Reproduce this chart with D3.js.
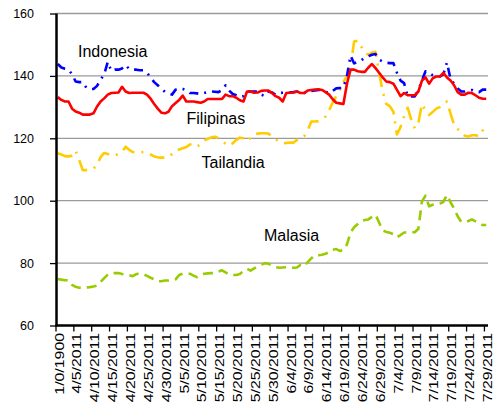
<!DOCTYPE html>
<html><head><meta charset="utf-8">
<script src="https://cdn.jsdelivr.net/npm/d3@7"></script>
<style>
html,body{margin:0;padding:0;background:#fff;}
svg{display:block;font-family:"Liberation Sans",Arial,sans-serif;}
</style></head>
<body>
<svg id="chart" width="499" height="412"></svg>
<script>
// ---- data ----
const nCats = 121;
const categories = d3.range(nCats).map(i => i === 0 ? "1/0/1900" : d3.timeFormat("%-m/%-d/%Y")(new Date(2011, 3, i)));
const tickLabels = ["1/0/1900","4/5/2011","4/10/2011","4/15/2011","4/20/2011","4/25/2011","4/30/2011","5/5/2011","5/10/2011","5/15/2011","5/20/2011","5/25/2011","5/30/2011","6/4/2011","6/9/2011","6/14/2011","6/19/2011","6/24/2011","6/29/2011","7/4/2011","7/9/2011","7/14/2011","7/19/2011","7/24/2011","7/29/2011"];
const yTicks = [60, 80, 100, 120, 140, 160];

const indonesia = [143.8,142.7,142.3,142,140.5,138.2,138,138,136.2,135.8,135.8,136.8,138.8,140.5,144.5,141.6,142,142,142.4,143.5,142.2,142,142,141.8,141.8,141,139.5,138,137,135.9,134.9,134.5,134,135.6,136,135.8,135.4,134.5,134.5,134.4,134.2,134.5,134.8,135,134.9,134.8,135.5,137,135.3,134.2,133.8,133.3,133.5,135,135,135,135,134,133.5,135,134.7,134,134.5,134.6,134.6,134.7,134.8,135,134.6,134.5,134.9,135.2,135.3,135.5,135.5,134.9,134.5,135.2,136,136.1,136.2,140,146.5,144,144.5,145,145.8,146.3,146.8,147,145.2,144.6,144.2,144.1,144.1,141,138.5,137.7,133.5,133.4,133.4,135.5,138.5,141.5,141,140.2,139.8,139.8,140.5,144.3,139,137.5,136,135,135,135.3,135.5,135,134.8,135.6,135.6];
const filipinas = [133.2,132.3,131.8,131.8,129.5,128.6,128.2,127.6,127.6,127.6,128,130.2,131.8,132.8,134,134.5,134.6,134.7,136.5,135,134.5,134.6,134.6,134.6,134.6,134,132.7,131,129.5,128.2,128,128.5,130.3,131.3,132.3,133.7,131.8,131.8,131.8,131.6,131.4,131.8,132.6,132.6,132.6,132.6,132.6,134,133.5,133.5,133,132.2,131.8,135,135,134.6,134.7,135.2,135.3,135.3,134.5,133.5,133,131.8,134.5,134.6,134.7,135,134.5,134.5,135.3,135.5,135.6,135.7,135.5,134.8,134,132.5,131.4,131.2,131,137.5,142,142,141.5,141.3,141.3,142.7,143.8,142.5,141,139.5,138.2,138,137.5,135.5,133.5,134.5,133.8,133.8,133.8,135,138.5,139.5,137.5,139.2,139.8,139.8,141,139.5,138.5,137,134.8,134,134,134.6,134.5,133.8,133,132.7,132.7];
const tailandia = [115.2,114.8,114.3,114.2,114.4,116,113,109.8,109.8,109.9,110.3,111.5,114,115.3,115,114.4,114.5,115,115.6,117.3,116.3,115.6,115.4,115.5,115.6,115.3,114.8,114.2,113.9,113.8,113.8,114,115,116,116.4,116.8,117.2,118,118.2,117.4,118,119.3,119.8,120.3,120.5,120,119,118.3,117.6,118.4,119.5,120.2,120,119,120.2,121.2,121.5,121.6,121.6,121.5,120.6,119.8,118.8,118.4,118.5,118.6,118.6,119.5,120.4,120.7,122.5,125.4,125.4,125.5,126.2,127,129,131.5,133.5,135.5,138,140,143,151,151.3,149.4,147.4,146.8,147.5,147.7,141,135,131,130.3,128.5,121.2,123.6,127,129.8,126,123.2,125,131,129,127.5,128.4,129.5,130,131.2,131.8,128,124.3,123,121.6,120.8,120.6,121,121,120.6,122.5,124.3];
const malasia = [74.9,74.7,74.5,74.5,73,72.4,72.1,72,72.2,72.3,72.5,72.8,74,75.2,76.3,76.8,76.8,76.8,76.5,76.3,76.1,75.8,76.5,76.6,76.4,75.9,75.3,74.8,74.2,74.2,74.4,74.4,74.5,74.8,76.2,76.6,76.6,76.6,76,75.5,76,76.6,76.7,76.8,76.8,77.3,77.7,77,76.4,76.2,76.2,76.5,77.5,78.2,77.6,78.3,79,79.5,80,79.8,79.3,78.7,78.5,78.6,78.7,78.6,78.5,78.6,79.5,79,80.3,81.5,82.5,82.5,82.7,83,83.5,84.3,84.5,83.9,84.2,86,89.8,91.5,92.5,93.5,93.8,94,94.8,95.5,93,90.5,90,89.7,89.3,88.3,89,89.8,89.8,89.9,89.9,91,99.8,101.6,98.2,98.7,99,99.1,99.6,101.8,99.5,97.5,95,93.2,93.2,93.5,94,93.4,92.8,92.2,92.2];

const seriesNames = ["Tailandia", "Malasia", "Indonesia", "Filipinas"];
const seriesValues = [tailandia, malasia, indonesia, filipinas];
const seriesColors = ["#FFCC00", "#99CC00", "#0000FF", "#FF0000"];
const seriesDash = ["15,7,2,7", "10,6", "9,6,2,6", null];
const labelPos = {Indonesia: [78, 57], Filipinas: [186.5, 123.5], Tailandia: [201.5, 168], Malasia: [264, 241]};

// ---- layout ----
const svg = d3.select("#chart");
const mLeft = 56, mRight = 488, mTop = 13.5, mBottom = 325.5;
const x = d3.scaleBand().domain(categories).range([mLeft, mRight]).paddingInner(0).paddingOuter(0);
const y = d3.scaleLinear().domain([60, 160]).range([mBottom, mTop]);
const cx = c => x(c) + x.bandwidth() / 2;

// gridlines
svg.append("g").selectAll("line").data(yTicks.filter(t => t > 60)).join("line")
  .attr("x1", mLeft).attr("x2", mRight)
  .attr("y1", d => y(d)).attr("y2", d => y(d))
  .attr("stroke", "#9a9a9a").attr("stroke-width", 1.3);

// series
const line = d3.line().x((d, i) => cx(categories[i])).y(d => y(d));
seriesValues.forEach((vals, k) => {
  const p = svg.append("path").datum(vals)
    .attr("d", line).attr("fill", "none")
    .attr("stroke", seriesColors[k]).attr("stroke-width", 2.6)
    .attr("stroke-linejoin", "round");
  if (seriesDash[k]) p.attr("stroke-dasharray", seriesDash[k]);
});

// y axis
const yAxis = svg.append("g").attr("transform", `translate(${mLeft},0)`)
  .call(d3.axisLeft(y).tickValues(yTicks).tickSize(6).tickPadding(0).tickFormat(d3.format("d")));
yAxis.select(".domain").remove();
yAxis.selectAll(".tick line").attr("stroke", "#000").attr("stroke-width", 1.3);
yAxis.selectAll(".tick text").attr("x", -22).attr("font-size", 12.5)
  .attr("font-family", "'Liberation Sans',Arial,sans-serif").attr("fill", "#000");
svg.append("line").attr("x1", mLeft + 0.5).attr("x2", mLeft + 0.5).attr("y1", mTop).attr("y2", mBottom + 1)
  .attr("stroke", "#000").attr("stroke-width", 2.5);

// x axis
const tickIdx = d3.range(0, nCats, 5);
const gx = svg.append("g");
gx.selectAll("line.tk").data(tickIdx).join("line").attr("class", "tk")
  .attr("x1", i => x(categories[i])).attr("x2", i => x(categories[i]))
  .attr("y1", mBottom).attr("y2", mBottom + 6)
  .attr("stroke", "#000").attr("stroke-width", 1.3);
gx.selectAll("text").data(tickIdx).join("text")
  .attr("transform", (i) => `translate(${cx(categories[i]) + 1.5},${mBottom + 7.5}) rotate(-90) scale(1.32,1)`)
  .attr("text-anchor", "end").attr("dominant-baseline", "central")
  .attr("font-size", 12).attr("fill", "#000")
  .text((i, k) => tickLabels[k]);
svg.append("line").attr("x1", mLeft - 0.5).attr("x2", mRight).attr("y1", mBottom).attr("y2", mBottom)
  .attr("stroke", "#000").attr("stroke-width", 2.5);

// series labels
["Indonesia", "Filipinas", "Tailandia", "Malasia"].forEach(n => {
  svg.append("text").attr("x", labelPos[n][0]).attr("y", labelPos[n][1])
    .attr("font-size", 16).attr("fill", "#000").text(n);
});
</script>
</body></html>
